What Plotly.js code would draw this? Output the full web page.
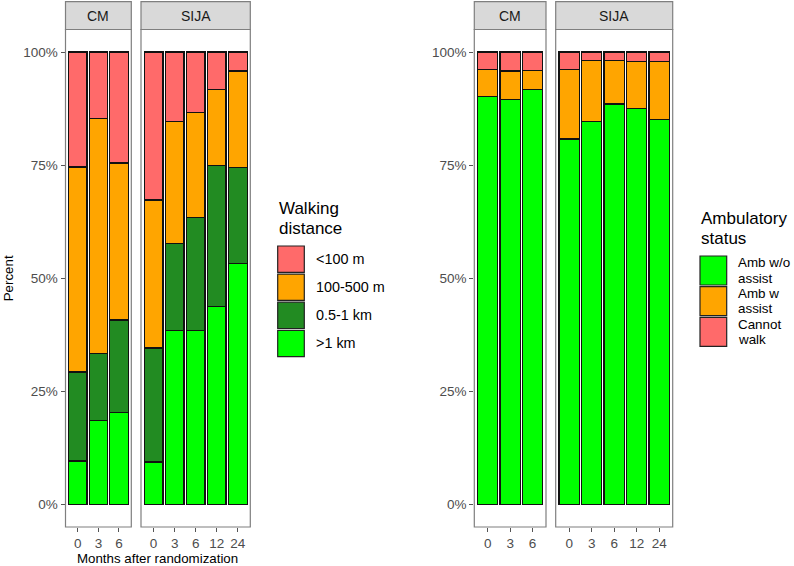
<!DOCTYPE html>
<html>
<head>
<meta charset="utf-8">
<script src="https://cdn.plot.ly/plotly-3.0.1.min.js"></script>
<style>
  body { margin: 0; background: #fff; }
  #chart { width: 794px; height: 566px; }
</style>
</head>
<body>
<div id="chart"></div>
<script>
// Percent of patients per visit, CM vs SIJA
const cmMonths = ['0', '3', '6'];
const sijaMonths = ['0', '3', '6', '12', '24'];

// walking distance, stacked bottom to top
const walkLevels = ['>1 km', '0.5-1 km', '100-500 m', '<100 m'];
const walkColors = ['#00FF00', '#228B22', '#FFA500', '#FF6A6A'];
const walkCM = [
    [9.6, 18.6, 20.3],
    [19.7, 14.7, 20.5],
    [45.3, 52.1, 34.7],
    [25.4, 14.6, 24.5]
];
const walkSIJA = [
    [9.4, 38.4, 38.4, 43.7, 53.2],
    [25.2, 19.3, 25.0, 31.2, 21.3],
    [32.7, 26.9, 23.2, 16.8, 21.3],
    [32.7, 15.4, 13.4, 8.3, 4.2]
];

// ambulatory status, stacked bottom to top
const ambLevels = ['Amb w/o assist', 'Amb w assist', 'Cannot walk'];
const ambColors = ['#00FF00', '#FFA500', '#FF6A6A'];
const ambCM = [
    [90.2, 89.5, 91.8],
    [5.9, 6.3, 4.1],
    [3.9, 4.2, 4.1]
];
const ambSIJA = [
    [80.8, 84.6, 88.5, 87.5, 85.1],
    [15.4, 13.5, 9.6, 10.4, 12.8],
    [3.8, 1.9, 1.9, 2.1, 2.1]
];

const yTicks = [0, 25, 50, 75, 100];
const yTickText = yTicks.map(v => v + '%');

const W = 794, H = 566;
const px = v => v / W;
const py = v => 1 - v / H;
const FONT = 'Liberation Sans, Arial, sans-serif';
const tickFont = { family: FONT, size: 13.5, color: '#4D4D4D' };
const borderColor = '#7f7f7f';

const panelTop = 29.5, panelBottom = 527, stripTop = 1.7;

function barTraces(cats, matrix, colors, xa, ya) {
    return matrix.map((vals, i) => ({
        type: 'bar',
        x: cats,
        y: vals,
        xaxis: xa,
        yaxis: ya,
        marker: { color: colors[i], line: { color: '#111', width: 1.3 } },
        showlegend: false,
        hoverinfo: 'skip'
    }));
}

const data = [
    ...barTraces(cmMonths, walkCM, walkColors, 'x', 'y'),
    ...barTraces(sijaMonths, walkSIJA, walkColors, 'x2', 'y'),
    ...barTraces(cmMonths, ambCM, ambColors, 'x3', 'y2'),
    ...barTraces(sijaMonths, ambSIJA, ambColors, 'x4', 'y2')
];

function xAxis(x0, x1, anchor, n) {
    return {
        domain: [px(x0), px(x1)],
        anchor: anchor,
        type: 'category',
        range: [-0.6, n - 0.4],
        ticks: 'outside', ticklen: 4, tickwidth: 1, tickcolor: '#555',
        tickfont: tickFont,
        showgrid: false, zeroline: false, showline: false,
        fixedrange: true
    };
}
function yAxis(anchor) {
    return {
        domain: [py(panelBottom), py(panelTop)],
        anchor: anchor,
        range: [-5, 105],
        tickmode: 'array',
        tickvals: yTicks,
        ticktext: yTickText,
        ticks: 'outside', ticklen: 4, tickwidth: 1, tickcolor: '#555',
        tickfont: tickFont,
        showgrid: false, zeroline: false, showline: false,
        fixedrange: true
    };
}

const panels = [
    { xa: 'x', ya: 'y', name: 'CM' },
    { xa: 'x2', ya: 'y', name: 'SIJA' },
    { xa: 'x3', ya: 'y2', name: 'CM' },
    { xa: 'x4', ya: 'y2', name: 'SIJA' }
];

const shapes = [];
const annotations = [];

panels.forEach(p => {
    // panel border
    shapes.push({
        type: 'rect', xref: p.xa + ' domain', yref: p.ya + ' domain',
        x0: 0, x1: 1, y0: 0, y1: 1,
        line: { color: borderColor, width: 1.2 }, fillcolor: 'rgba(0,0,0,0)'
    });
    // facet strip
    shapes.push({
        type: 'rect', xref: p.xa + ' domain', yref: 'paper',
        x0: 0, x1: 1, y0: py(panelTop), y1: py(stripTop),
        line: { color: borderColor, width: 1.2 }, fillcolor: '#D9D9D9'
    });
    annotations.push({
        xref: p.xa + ' domain', yref: 'paper', x: 0.5, y: py((panelTop + stripTop) / 2),
        text: p.name, showarrow: false, xanchor: 'center', yanchor: 'middle',
        font: { family: FONT, size: 14, color: '#1A1A1A' }
    });
});

// axis titles
annotations.push({
    xref: 'paper', yref: 'paper', x: px(8), y: py((panelTop + panelBottom) / 2),
    text: 'Percent', textangle: -90, showarrow: false,
    xanchor: 'center', yanchor: 'middle',
    font: { family: FONT, size: 13.3, color: '#000' }
});
annotations.push({
    xref: 'paper', yref: 'paper', x: px(157), y: py(558),
    text: 'Months after randomization', showarrow: false,
    xanchor: 'center', yanchor: 'middle',
    font: { family: FONT, size: 13.3, color: '#000' }
});

// legends drawn as big ggplot-style keys
const titleFont = { family: FONT, size: 17, color: '#000' };
const labelFont = { family: FONT, size: 14.4, color: '#000' };

function legendTitle(lines, x, yFirst) {
    lines.forEach((t, i) => annotations.push({
        xref: 'paper', yref: 'paper', x: px(x), y: py(yFirst + i * 19.5),
        text: t, showarrow: false, xanchor: 'left', yanchor: 'middle', font: titleFont
    }));
}

// walking distance legend, top level first
legendTitle(['Walking', 'distance'], 276.5, 209);
walkLevels.slice().reverse().forEach((lab, k) => {
    const idx = walkLevels.length - 1 - k;
    const top = 246 + k * 28.1, h = 26.3;
    shapes.push({
        type: 'rect', xref: 'paper', yref: 'paper',
        x0: px(277.7), x1: px(304.3), y0: py(top + h), y1: py(top),
        fillcolor: walkColors[idx], line: { color: '#222', width: 1.2 }
    });
    annotations.push({
        xref: 'paper', yref: 'paper', x: px(314.3), y: py(top + h / 2),
        text: lab, showarrow: false, xanchor: 'left', yanchor: 'middle', font: labelFont
    });
});

// ambulatory status legend, labels wrapped on two lines
legendTitle(['Ambulatory', 'status'], 699, 219);
ambLevels.forEach((lab, k) => {
    const top = 256 + k * 30.7, h = 29;
    shapes.push({
        type: 'rect', xref: 'paper', yref: 'paper',
        x0: px(700), x1: px(726.7), y0: py(top + h), y1: py(top),
        fillcolor: ambColors[k], line: { color: '#222', width: 1.2 }
    });
    const cut = lab.lastIndexOf(' ');
    [lab.slice(0, cut), lab.slice(cut + 1)].forEach((t, j) => annotations.push({
        xref: 'paper', yref: 'paper', x: px(736.7), y: py(top + h / 2 - 7.65 + j * 15.3),
        text: t, showarrow: false, xanchor: 'left', yanchor: 'middle', borderpad: 0,
        font: { family: FONT, size: 13.4, color: '#000' }
    }));
});

const layout = {
    width: W, height: H,
    margin: { l: 0, r: 0, t: 0, b: 0 },
    paper_bgcolor: '#fff',
    plot_bgcolor: 'rgba(0,0,0,0)',
    barmode: 'stack',
    bargap: 0.1,
    showlegend: false,
    font: { family: FONT },
    xaxis: xAxis(65.5, 131.3, 'y', cmMonths.length),
    xaxis2: xAxis(141, 250.3, 'y', sijaMonths.length),
    xaxis3: xAxis(474.3, 546, 'y2', cmMonths.length),
    xaxis4: xAxis(555.7, 672.7, 'y2', sijaMonths.length),
    yaxis: yAxis('x'),
    yaxis2: yAxis('x3'),
    shapes: shapes,
    annotations: annotations
};

Plotly.newPlot('chart', data, layout, { displayModeBar: false, staticPlot: true });
</script>
</body>
</html>
